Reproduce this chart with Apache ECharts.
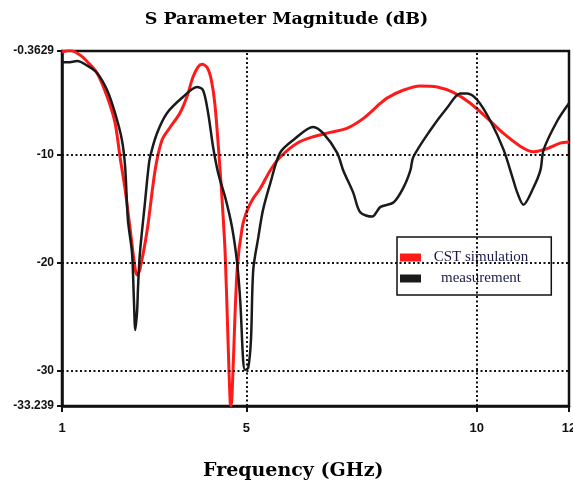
<!DOCTYPE html>
<html>
<head>
<meta charset="utf-8">
<script src="https://cdn.jsdelivr.net/npm/echarts@6/dist/echarts.min.js"></script>
<style>html,body{margin:0;padding:0;background:#fff}#c{width:573px;height:488px}</style>
</head>
<body>
<div id="c"></div>
<script>
// ---- data ----
const freqSim = [1.00,1.17,1.39,1.56,1.76,1.98,2.15,2.26,2.37,2.48,2.59,2.63,2.69,2.85,3.02,3.17,3.35,3.56,3.71,3.84,3.95,4.04,4.15,4.24,4.32,4.43,4.47,4.54,4.60,4.65,4.67,4.71,4.80,4.91,5.02,5.15,5.30,5.52,5.73,6.10,6.45,6.82,7.19,7.54,7.91,8.06,8.40,8.77,9.14,9.49,9.86,10.23,10.58,10.95,11.23,11.53,11.81,12.0];
const dbSim   = [-0.45,-0.3,-0.74,-1.4,-2.4,-4.6,-7.0,-10.2,-13.2,-16.9,-20.6,-21.1,-20.6,-16.9,-11.4,-8.6,-7.4,-6.1,-4.6,-2.8,-1.85,-1.6,-1.9,-3.05,-5.4,-11.4,-13.9,-19.1,-26.9,-33.0,-33.2,-29.9,-20.6,-16.7,-15.1,-14.0,-13.1,-11.4,-10.2,-8.9,-8.3,-7.9,-7.5,-6.6,-5.2,-4.7,-4.0,-3.6,-3.7,-4.2,-5.2,-6.6,-8.0,-9.2,-9.7,-9.4,-8.9,-8.8];
const freqMeas = [1.00,1.13,1.33,1.54,1.76,1.98,2.15,2.30,2.37,2.43,2.52,2.56,2.59,2.63,2.65,2.69,2.80,2.87,2.91,3.06,3.28,3.63,3.93,4.06,4.17,4.28,4.39,4.54,4.69,4.80,4.87,4.93,4.97,5.04,5.10,5.15,5.26,5.36,5.52,5.73,6.02,6.45,6.67,6.97,7.10,7.32,7.47,7.73,7.91,8.19,8.41,8.56,8.62,8.99,9.36,9.64,9.79,10.01,10.29,10.58,10.79,10.88,11.01,11.23,11.38,11.45,11.75,12.0];
const dbMeas   = [-1.4,-1.4,-1.3,-1.7,-2.4,-4.0,-6.1,-8.6,-11.1,-16.0,-19.1,-23.4,-26.2,-24.4,-22.2,-19.1,-14.4,-11.4,-10.2,-8.0,-6.1,-4.6,-3.7,-4.0,-6.1,-9.3,-11.7,-13.9,-16.7,-20.0,-23.7,-29.0,-29.9,-29.7,-27.1,-20.6,-17.6,-15.1,-12.6,-9.8,-8.6,-7.4,-8.0,-9.8,-11.4,-13.5,-15.3,-15.7,-14.8,-14.4,-13.0,-11.4,-10.2,-7.7,-5.6,-4.3,-4.3,-4.9,-6.8,-9.5,-12.3,-13.5,-14.6,-13.0,-11.4,-9.5,-6.8,-5.2];
const xTicks = [1, 5, 10, 12];
const yTicks = [-0.3629, -10, -20, -30, -33.239];
const xGrid = [5, 10];
const yGrid = [-10, -20, -30];
const seriesNames = ['CST simulation', 'measurement'];

const pair = (xs, ys) => xs.map((x, i) => [x, ys[i]]);
const dotted = {color: '#111', width: 2, type: [2, 2.5]};
const tickFont = 'Liberation Sans';

const chart = echarts.init(document.getElementById('c'), null, {renderer: 'canvas'});
chart.setOption({
  animation: false,
  title: [{
    text: 'S Parameter Magnitude (dB)',
    left: 'center', top: 5,
    textStyle: {fontFamily: 'DejaVu Serif', fontWeight: 'bold', fontSize: 17.5, color: '#000'}
  }, {
    text: 'Frequency (GHz)',
    left: 198, top: 457,
    textStyle: {fontFamily: 'DejaVu Serif', fontWeight: 'bold', fontSize: 19, color: '#000'}
  }],
  grid: {left: 62, right: 4, top: 51, bottom: 82, show: true, borderColor: '#111', borderWidth: 2.5, containLabel: false, outerBoundsMode: 'none'},
  legend: {
    orient: 'vertical', left: 397, top: 237,
    borderColor: '#111', borderWidth: 1.5, padding: [13, 23, 9, 3],
    itemWidth: 21, itemHeight: 8, itemGap: 6,
    icon: 'rect',
    formatter: n => '{t|' + n + '}',
    textStyle: {
      rich: {t: {width: 110, align: 'center', fontFamily: 'Liberation Serif', fontSize: 15, color: '#1a1a4a'}}
    },
    data: seriesNames
  },
  xAxis: {
    type: 'value', min: 1, max: 12,
    axisLine: {show: true, lineStyle: {color: '#111', width: 2.5}},
    axisTick: {show: true, customValues: xTicks, length: 6, lineStyle: {color: '#111', width: 2}},
    axisLabel: {customValues: xTicks, margin: 16, fontFamily: tickFont, fontWeight: 'bold', fontSize: 13, color: '#111'},
    splitLine: {show: false}
  },
  yAxis: {
    type: 'value', min: -33.239, max: -0.3629,
    axisLine: {show: true, lineStyle: {color: '#111', width: 2.5}},
    axisTick: {show: true, customValues: yTicks, length: 5, lineStyle: {color: '#111', width: 2}},
    axisLabel: {customValues: yTicks, margin: 8, fontFamily: tickFont, fontWeight: 'bold', fontSize: 12, color: '#111', formatter: v => String(v)},
    splitLine: {show: false}
  },
  series: [
    {
      name: seriesNames[0], type: 'line', data: pair(freqSim, dbSim),
      showSymbol: false, smooth: 0.3, clip: true,
      lineStyle: {color: '#ff1a1a', width: 3}, itemStyle: {color: '#ff1a1a'}, z: 3,
      markLine: {
        silent: true, symbol: 'none', label: {show: false},
        lineStyle: dotted,
        data: yGrid.map(v => ({yAxis: v})).concat(xGrid.map(v => ({xAxis: v})))
      }
    },
    {
      name: seriesNames[1], type: 'line', data: pair(freqMeas, dbMeas),
      showSymbol: false, smooth: 0.3, clip: true,
      lineStyle: {color: '#1a1a1a', width: 2.5}, itemStyle: {color: '#1a1a1a'}, z: 4
    }
  ]
});
</script>
</body>
</html>
